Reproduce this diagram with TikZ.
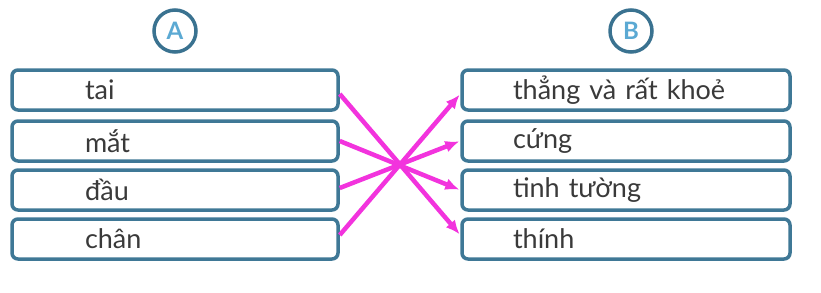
\documentclass[tikz,border=0pt]{standalone}
\usepackage{fontspec}
\setmainfont{Lato}
\usepackage{tikz}
\usetikzlibrary{arrows.meta,calc,positioning}
\definecolor{boxline}{HTML}{3F7896}
\definecolor{ringline}{HTML}{3A7290}
\definecolor{letterblue}{HTML}{5BA9D3}
\definecolor{matchline}{HTML}{F233DD}
\definecolor{wordgray}{HTML}{3A3A3A}
\tikzset{
  wordbox/.style={draw=boxline, rounded corners=6pt, line width=3.5pt, fill=white,
    minimum height=40pt, inner ysep=0pt, align=left, text=wordgray,
    font=\fontsize{27}{31}\selectfont},
  leftbox/.style={wordbox, inner xsep=73pt, text width=180pt},
  rightbox/.style={wordbox, inner xsep=51pt, text width=226pt},
  colring/.style={circle, draw=ringline, line width=3.5pt, minimum size=42pt, inner sep=0pt,
    text=letterblue, font=\fontsize{24}{28}\selectfont\bfseries},
  matcharrow/.style={-{Latex[length=14pt,width=12pt]}, line width=4.5pt, draw=matchline, shorten >=1pt}
}
\begin{document}
\begin{tikzpicture}[x=1pt,y=-1pt]
  \useasboundingbox (0,0) rectangle (821,292);

  % column headings
  \node[colring] (ha) at (175,31) {A};
  \node[colring] (hb) at (631,31) {B};

  % column A
  \node[leftbox] (a1) at (175,90) {tai};
  \node[leftbox] (a2) at (175,141) {mắt};
  \node[leftbox] (a3) at (175,190) {đầu};
  \node[leftbox] (a4) at (175,239) {chân};

  % column B
  \node[rightbox] (b1) at (626,90) {thẳng và rất khoẻ};
  \node[rightbox] (b2) at (626,141) {cứng};
  \node[rightbox] (b3) at (626,190) {tinh tường};
  \node[rightbox] (b4) at (626,239) {thính};

  % matches
  \draw[matcharrow] ([yshift=-4pt]a1.east) -- ([yshift=4pt]b4.west);
  \draw[matcharrow] (a2.east) -- (b3.west);
  \draw[matcharrow] ([yshift=2pt]a3.east) -- (b2.west);
  \draw[matcharrow] ([yshift=4pt]a4.east) -- ([yshift=-4pt]b1.west);

\end{tikzpicture}
\end{document}
